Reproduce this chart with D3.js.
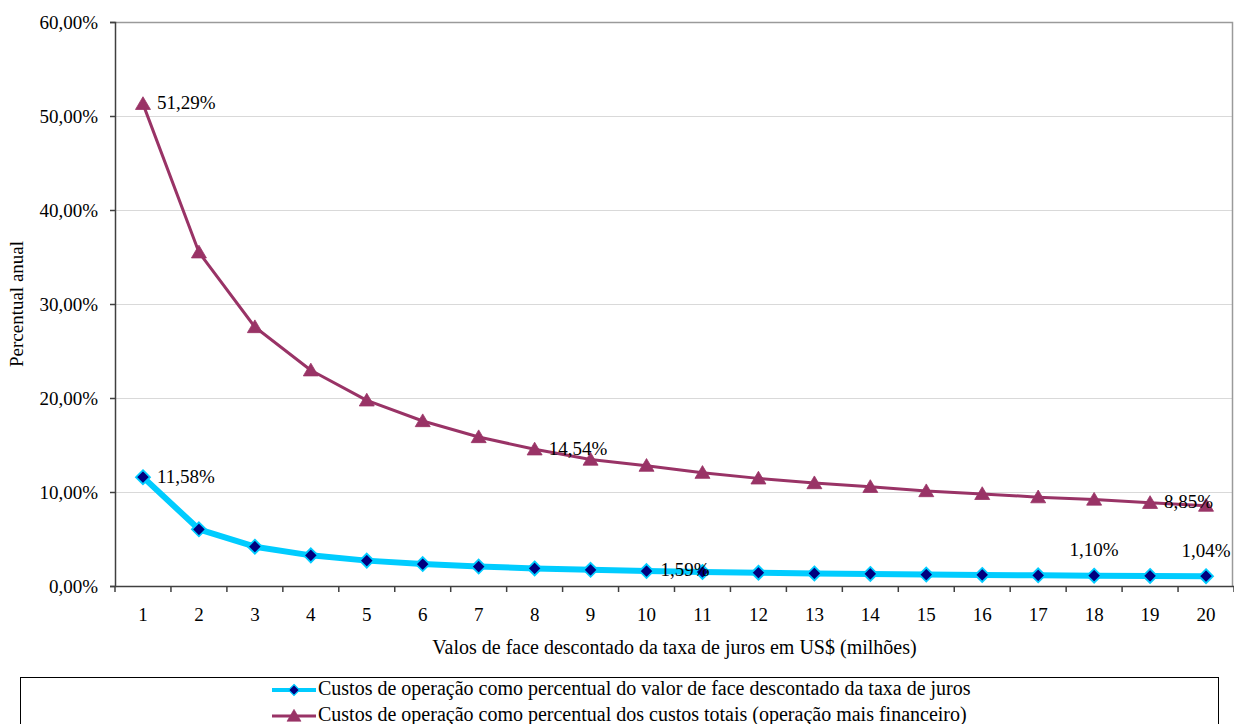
<!DOCTYPE html>
<html>
<head>
<meta charset="utf-8">
<script src="https://cdn.jsdelivr.net/npm/d3@7"></script>
<style>
  html, body { margin: 0; padding: 0; background: #fff; }
  svg { display: block; }
  svg text { font-family: "Liberation Serif", Tinos, "Times New Roman", Times, "DejaVu Serif", serif; }
</style>
</head>
<body>
<svg id="chart" width="1234" height="724"></svg>
<script>
// Face value (US$ millions)
const categories = [1,2,3,4,5,6,7,8,9,10,11,12,13,14,15,16,17,18,19,20];

// Operating costs as % of face value discounted of interest rate
const custoValorFace = [11.58, 6.03, 4.18, 3.26, 2.70, 2.33, 2.07, 1.87, 1.72, 1.59,
                        1.49, 1.41, 1.34, 1.28, 1.22, 1.18, 1.14, 1.10, 1.07, 1.04];

// Operating costs as % of total costs (operation + financial)
const custoTotal = [51.29, 35.50, 27.55, 22.95, 19.75, 17.55, 15.85, 14.54, 13.45, 12.80,
                    12.05, 11.45, 10.95, 10.55, 10.10, 9.80, 9.45, 9.20, 8.85, 8.55];

const yTicks = [0, 10, 20, 30, 40, 50, 60];

const seriesNames = [
  "Custos de operação como percentual do valor de face descontado da taxa de juros",
  "Custos de operação como percentual dos custos totais (operação mais financeiro)"
];

// Points that carry a value label: [series, index, placement]
const labeledPoints = [
  [0, 0, "right"], [0, 9, "right"], [0, 17, "above"], [0, 19, "above"],
  [1, 0, "right"], [1, 7, "right"], [1, 18, "right"]
];

const fmt = v => d3.format(".2f")(v).replace(".", ",") + "%";

const svg = d3.select("#chart");
const plot = { left: 115, right: 1234, top: 22, bottom: 586 };

const x = d3.scaleBand().domain(categories).range([plot.left, plot.right]);
const y = d3.scaleLinear().domain([0, 60]).range([plot.bottom, plot.top]);
const cx = d => x(d) + x.bandwidth() / 2;

// horizontal gridlines
svg.append("g")
  .selectAll("line")
  .data(yTicks.filter(t => t > 0 && t < 60))
  .join("line")
  .attr("x1", plot.left).attr("x2", plot.right - 1)
  .attr("y1", d => Math.round(y(d)) + 0.5).attr("y2", d => Math.round(y(d)) + 0.5)
  .attr("stroke", "#d9d9d9").attr("stroke-width", 1);

// plot area border (top and right)
svg.append("path")
  .attr("d", `M${plot.left},${Math.round(y(60)) + 0.5} H${plot.right - 1.5} V${plot.bottom}`)
  .attr("fill", "none").attr("stroke", "#9a9a9a").attr("stroke-width", 1.5);

// y axis
const yAxis = d3.axisLeft(y).tickValues(yTicks).tickSize(5).tickPadding(12)
  .tickFormat(fmt);
const gy = svg.append("g").attr("transform", `translate(${plot.left},0)`).call(yAxis);
gy.attr("font-family", null);
gy.select(".domain").attr("stroke", "#404040").attr("stroke-width", 1.5);
gy.selectAll(".tick line").attr("stroke", "#404040").attr("stroke-width", 1.5);
gy.selectAll("text").attr("font-size", 19).attr("fill", "#000");

// x axis
const xAxis = d3.axisBottom(x).tickSize(0).tickPadding(22);
const gx = svg.append("g").attr("transform", `translate(0,${plot.bottom})`).call(xAxis);
gx.attr("font-family", null);
gx.select(".domain").attr("stroke", "#404040").attr("stroke-width", 1.5);
gx.selectAll("text").attr("font-size", 19).attr("fill", "#000");
// tick marks at category boundaries
gx.append("g").selectAll("line")
  .data(d3.range(categories.length + 1))
  .join("line")
  .attr("x1", i => plot.left + i * x.step()).attr("x2", i => plot.left + i * x.step())
  .attr("y1", 0).attr("y2", 6)
  .attr("stroke", "#404040").attr("stroke-width", 1.5);

// axis titles
svg.append("text")
  .attr("x", (plot.left + plot.right) / 2).attr("y", 649)
  .attr("text-anchor", "middle").attr("dominant-baseline", "middle")
  .attr("font-size", 20)
  .text("Valos de face descontado da taxa de juros em US$ (milhões)");

svg.append("text")
  .attr("transform", `translate(19,${(plot.top + plot.bottom) / 2}) rotate(-90)`)
  .attr("text-anchor", "middle").attr("dominant-baseline", "middle")
  .attr("font-size", 19)
  .text("Percentual anual");

const line = d3.line().x((d, i) => cx(categories[i])).y(d => y(d));

const styles = [
  { stroke: "#00ccff", width: 6, marker: "diamond", fill: "#000080", mstroke: "#00ccff" },
  { stroke: "#993366", width: 3, marker: "triangle", fill: "#993366", mstroke: "#993366" }
];
const data = [custoValorFace, custoTotal];

const diamond = r => `M0,${-r} L${r},0 L0,${r} L${-r},0 Z`;
const triangle = r => `M0,${-r * 0.95} L${r},${r * 0.75} L${-r},${r * 0.75} Z`;

// draw total-cost series first, then face-value series on top
[1, 0].forEach(s => {
  const st = styles[s];
  svg.append("path")
    .datum(data[s])
    .attr("d", line)
    .attr("fill", "none")
    .attr("stroke", st.stroke)
    .attr("stroke-width", st.width)
    .attr("stroke-linejoin", "round");
  svg.append("g").selectAll("path")
    .data(data[s])
    .join("path")
    .attr("transform", (d, i) => `translate(${cx(categories[i])},${y(d)})`)
    .attr("d", st.marker === "diamond" ? diamond(7) : triangle(7.5))
    .attr("fill", st.fill)
    .attr("stroke", st.mstroke)
    .attr("stroke-width", st.marker === "diamond" ? 1.8 : 0.8);
});

// value labels
svg.append("g").selectAll("text")
  .data(labeledPoints)
  .join("text")
  .attr("x", ([s, i, pos]) => pos === "right" ? cx(categories[i]) + 14 : cx(categories[i]))
  .attr("y", ([s, i, pos]) => pos === "right" ? y(data[s][i]) + 1 : y(data[s][i]) - 24)
  .attr("text-anchor", ([s, i, pos]) => pos === "right" ? "start" : "middle")
  .attr("dominant-baseline", "middle")
  .attr("font-size", 19)
  .text(([s, i]) => fmt(data[s][i]));

// legend
const legend = svg.append("g");
legend.append("rect")
  .attr("x", 20.5).attr("y", 677.5).attr("width", 1198).attr("height", 60)
  .attr("fill", "#fff").attr("stroke", "#000").attr("stroke-width", 1);
const rows = [690, 716];
seriesNames.forEach((name, s) => {
  const st = styles[s];
  const g = legend.append("g").attr("transform", `translate(0,${rows[s]})`);
  g.append("line").attr("x1", 272).attr("x2", 316).attr("y1", 0).attr("y2", 0)
    .attr("stroke", st.stroke).attr("stroke-width", s === 0 ? 4 : 3);
  g.append("path")
    .attr("transform", "translate(294,0)")
    .attr("d", st.marker === "diamond" ? diamond(5.5) : triangle(7))
    .attr("fill", st.fill).attr("stroke", st.mstroke).attr("stroke-width", s === 0 ? 1.2 : 0.6);
  g.append("text").attr("x", 318).attr("y", 0)
    .attr("dominant-baseline", "middle").attr("font-size", 20)
    .text(name);
});
</script>
</body>
</html>
